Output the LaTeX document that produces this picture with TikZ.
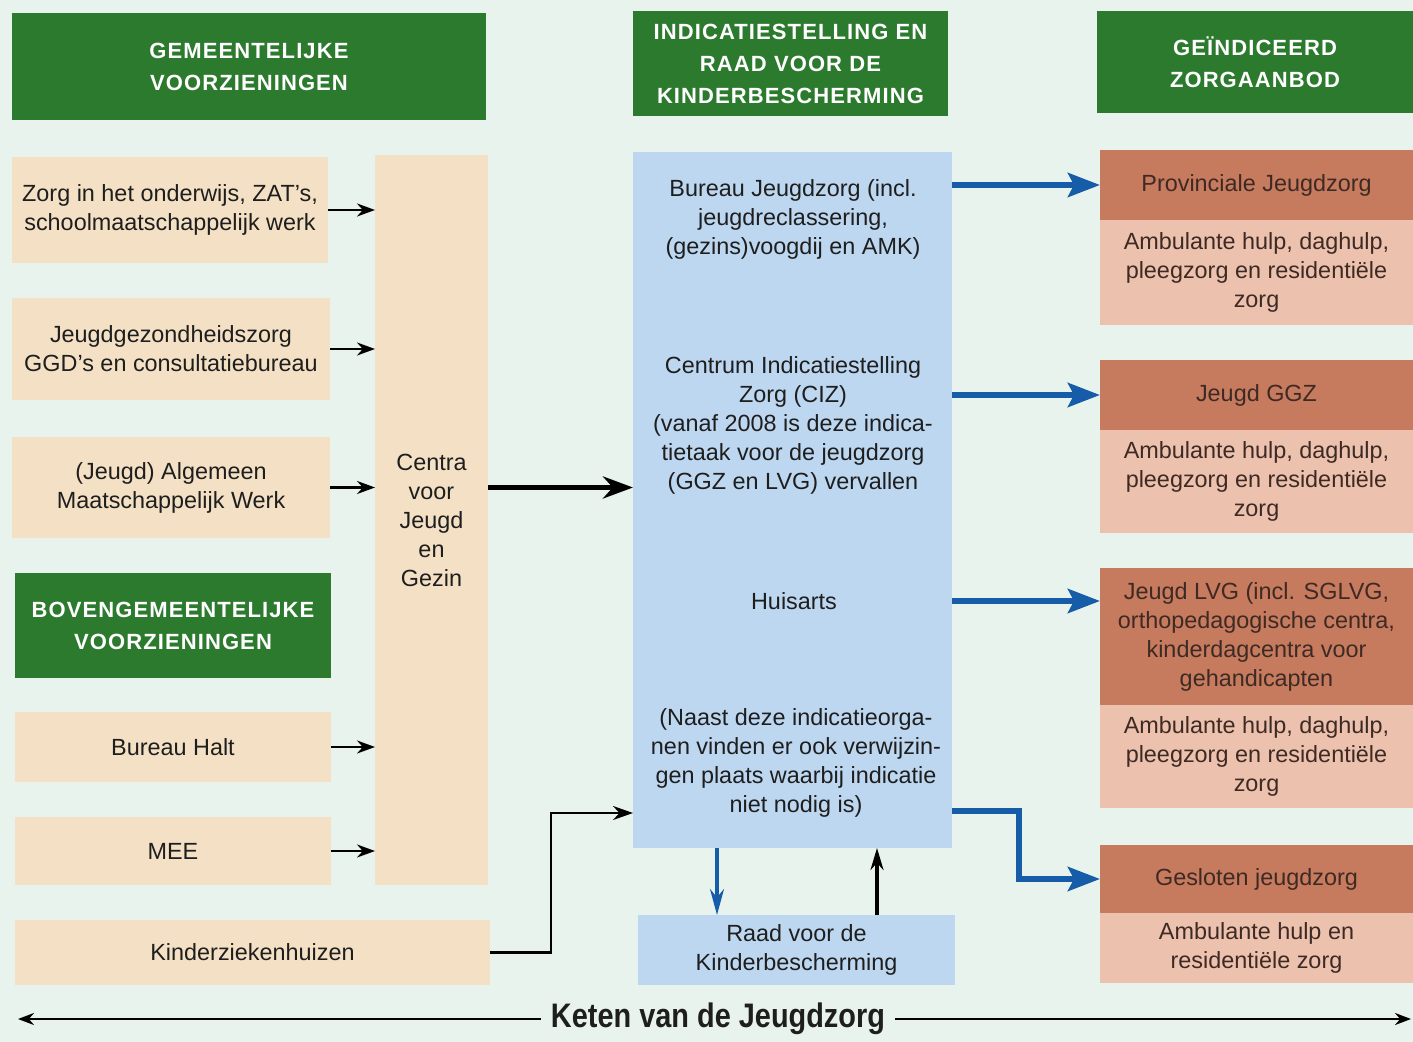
\documentclass[tikz,border=0pt]{standalone}
\usepackage{fontspec}
\setmainfont{Liberation Sans}
\newfontfamily\hdrfont[LetterSpace=5]{Liberation Sans}
\newfontfamily\ttlfont[FakeStretch=0.85]{Liberation Sans}
\usetikzlibrary{arrows.meta}
\definecolor{bg}{RGB}{233,243,238}
\definecolor{grn}{RGB}{44,122,46}
\definecolor{beige}{RGB}{244,225,197}
\definecolor{lblue}{RGB}{190,215,240}
\definecolor{terra}{RGB}{198,122,94}
\definecolor{pinkish}{RGB}{236,193,173}
\definecolor{arrblue}{RGB}{22,92,168}
\definecolor{txt}{RGB}{30,30,30}
\definecolor{rtxt}{RGB}{62,42,36}
\begin{document}
\begin{tikzpicture}[x=0.5pt,y=-0.5pt,
  every node/.style={inner sep=0pt,outer sep=0pt},
  body/.style={font=\fontsize{11.7}{14.5}\selectfont,text=txt,align=center},
  hdr/.style={fill=grn,text=white,align=center,font=\hdrfont\bfseries\fontsize{11}{16}\selectfont},
  lbox/.style={fill=beige,body},
  rhead/.style={fill=terra,body,text=rtxt,minimum width=156.5pt},
  rbody/.style={fill=pinkish,body,text=rtxt,minimum width=156.5pt},
  sarrow/.style={draw=black,line width=1.2pt,-{Stealth[length=9pt,width=6.5pt]}},
  barrow/.style={draw=black,line width=2.6pt,-{Stealth[length=15pt,width=11pt]}},
  karrow/.style={draw=black,line width=1.1pt,-{Stealth[length=10pt,width=7pt]}},
  blarrow/.style={draw=arrblue,line width=3pt,-{Stealth[length=16pt,width=12pt,inset=3pt]}},
  bdown/.style={draw=arrblue,line width=1.6pt,-{Stealth[length=13pt,width=7pt]}},
  bup/.style={draw=black,line width=1.8pt,-{Stealth[length=11pt,width=6.5pt]}},
  botarrow/.style={draw=black,line width=1.2pt,-{Stealth[length=8pt,width=6pt]}}]
\useasboundingbox (0,0) rectangle (1413,1042);
\fill[bg] (0,0) rectangle (1413,1042);

% headers
\node[hdr,minimum width=237pt,minimum height=53.5pt] (h1) at (249,66.5) {GEMEENTELIJKE\\VOORZIENINGEN};
\node[hdr,minimum width=157.5pt,minimum height=52.5pt] (h2) at (790.5,64) {INDICATIESTELLING EN\\RAAD VOOR DE\\KINDERBESCHERMING};
\node[hdr,minimum width=158pt,minimum height=51pt] (h3) at (1255,62) {GEÏNDICEERD\\ZORGAANBOD};
\node[hdr,minimum width=158pt,minimum height=52pt] (h4) at (173,625.5) {BOVENGEMEENTELIJKE\\VOORZIENINGEN};

% left column
\node[lbox,minimum width=158pt,minimum height=53pt] (b1) at (170,210) {Zorg in het onderwijs, ZAT’s,\\schoolmaatschappelijk werk};
\node[lbox,minimum width=159pt,minimum height=51pt] (b2) at (171,349) {Jeugdgezondheidszorg\\GGD’s en consultatiebureau};
\node[lbox,minimum width=159pt,minimum height=50.5pt] (b3) at (171,487.5) {(Jeugd) Algemeen\\Maatschappelijk Werk};
\node[lbox,minimum width=158pt,minimum height=35pt] (halt) at (173,747) {Bureau Halt};
\node[lbox,minimum width=158pt,minimum height=34pt] (mee) at (173,851) {MEE};
\node[lbox,minimum width=237.5pt,minimum height=32.5pt] (kind) at (252.5,952.5) {Kinderziekenhuizen};
\node[lbox,minimum width=56.5pt,minimum height=365pt] (cjg) at (431.5,520) {Centra\\voor\\Jeugd\\en\\Gezin};

% middle column
\node[fill=lblue,minimum width=159.5pt,minimum height=348pt] (blue) at (792.5,500) {};
\node[body] (bjz) at (793,219) {Bureau Jeugdzorg (incl.\\jeugdreclassering,\\(gezins)voogdij en AMK)};
\node[body] (ciz) at (793,425.5) {Centrum Indicatiestelling\\Zorg (CIZ)\\(vanaf 2008 is deze indica-\\tietaak voor de jeugdzorg\\(GGZ en LVG) vervallen};
\node[body] (huis) at (794,601) {Huisarts};
\node[body] (naast) at (796,762.5) {(Naast deze indicatieorga-\\nen vinden er ook verwijzin-\\gen plaats waarbij indicatie\\niet nodig is)};
\node[fill=lblue,body,minimum width=158.5pt,minimum height=35pt] (raad) at (796.5,950) {Raad voor de\\Kinderbescherming};

% right column
\node[rhead,minimum height=35pt] (provh) at (1256.5,185) {Provinciale Jeugdzorg};
\node[rbody,minimum height=52.5pt] (provb) at (1256.5,272.5) {Ambulante hulp, daghulp,\\pleegzorg en residentiële\\zorg};
\node[rhead,minimum height=35pt] (ggzh) at (1256.5,395) {Jeugd GGZ};
\node[rbody,minimum height=51.5pt] (ggzb) at (1256.5,481.5) {Ambulante hulp, daghulp,\\pleegzorg en residentiële\\zorg};
\node[rhead,minimum height=68.5pt] (lvgh) at (1256.5,636.5) {Jeugd LVG (incl. SGLVG,\\orthopedagogische centra,\\kinderdagcentra voor\\gehandicapten};
\node[rbody,minimum height=51.5pt] (lvgb) at (1256.5,756.5) {Ambulante hulp, daghulp,\\pleegzorg en residentiële\\zorg};
\node[rhead,minimum height=34pt] (gesh) at (1256.5,879) {Gesloten jeugdzorg};
\node[rbody,minimum height=35pt] (gesb) at (1256.5,948) {Ambulante hulp en\\residentiële zorg};

% arrows left -> CJG
\draw[sarrow] (b1.east) -- (b1.east -| cjg.west);
\draw[sarrow] (b2.east) -- (b2.east -| cjg.west);
\draw[sarrow] (b3.east) -- (b3.east -| cjg.west);
\draw[sarrow] (halt.east) -- (halt.east -| cjg.west);
\draw[sarrow] (mee.east) -- (mee.east -| cjg.west);

% CJG -> blue
\draw[barrow] (cjg.east |- b3.east) -- (blue.west |- b3.east);
\coordinate (kbend) at (551,813);
\draw[karrow] (kind.east) -| (kbend) -- (kbend -| blue.west);

% blue -> right
\draw[blarrow] (blue.east |- provh.west) -- (provh.west);
\draw[blarrow] (blue.east |- ggzh.west) -- (ggzh.west);
\draw[blarrow] (blue.east |- huis) -- (lvgh.west |- huis);
\coordinate (gbend) at (1019,811);
\draw[blarrow] (blue.east |- gbend) -- (gbend) |- (gesh.west);

% blue <-> raad
\coordinate (dn) at (717,0);
\coordinate (upx) at (877,0);
\draw[bdown] (dn |- blue.south) -- (dn |- raad.north);
\draw[bup] (upx |- raad.north) -- (upx |- blue.south);

% bottom
\node[font=\ttlfont\bfseries\fontsize{17}{20}\selectfont,text=txt,inner xsep=5pt] (ttl) at (718,1019) {Keten van de Jeugdzorg};
\coordinate (kl) at (18,1022);
\coordinate (kr) at (1411,1022);
\draw[botarrow] (ttl.west) -- (ttl.west -| kl);
\draw[botarrow] (ttl.east) -- (ttl.east -| kr);
\end{tikzpicture}
\end{document}
